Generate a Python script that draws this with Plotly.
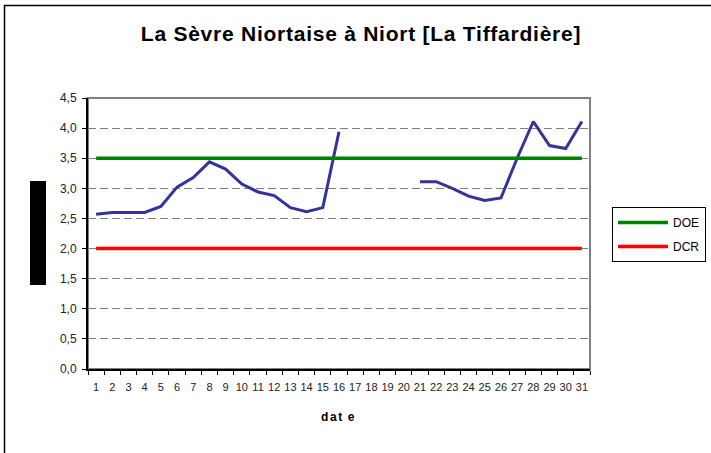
import plotly.graph_objects as go

days = [str(d) for d in range(1, 32)]
level = [2.57, 2.60, 2.60, 2.60, 2.70, 3.02, 3.18, 3.44, 3.32, 3.07,
         2.94, 2.88, 2.68, 2.61, 2.68, 3.94, None, None, None, None,
         3.11, 3.11, 3.00, 2.87, 2.80, 2.84, 3.50, 4.11, 3.71, 3.66, 4.11]
doe = [3.5] * 31
dcr = [2.0] * 31

W, H = 711, 453
L, R, T, B = 88, 590, 98, 369
pw, ph = R - L, B - T

def px(x):
    return (x - L) / pw

def py(y):
    return (B - y) / ph

font = "Arial, Liberation Sans, sans-serif"

fig = go.Figure()
fig.add_trace(go.Scatter(x=days, y=level, mode="lines", name="Niveau",
                         line=dict(color="#333399", width=3), showlegend=False,
                         connectgaps=False))
fig.add_trace(go.Scatter(x=days, y=doe, mode="lines", name="DOE",
                         line=dict(color="#008000", width=3.5), legendgroup="a"))
fig.add_trace(go.Scatter(x=days, y=dcr, mode="lines", name="DCR",
                         line=dict(color="#FF0000", width=3.5), legendgroup="b"))

fig.update_layout(
    width=W, height=H,
    margin=dict(l=L, r=W - R, t=T, b=H - B, autoexpand=False),
    paper_bgcolor="white", plot_bgcolor="white",
    font=dict(family=font, size=11, color="black"),
    separators=", ",
    title=dict(text="<b><span style='letter-spacing:0.75px'>La Sèvre Niortaise à Niort [La Tiffardière]</span></b>",
               x=361 / W, xanchor="center", y=1 - 34 / H, yanchor="middle",
               font=dict(family=font, size=21, color="black")),
    legend=dict(x=px(612), y=py(207), xanchor="left", yanchor="top",
                bordercolor="black", borderwidth=1, bgcolor="white",
                font=dict(family=font, size=12, color="black"),
                tracegroupgap=5, itemwidth=50),
    xaxis=dict(type="category", range=[-0.5, 30.5], showgrid=False,
               ticks="outside", tickson="boundaries", ticklen=4,
               tickcolor="black", showline=True, linecolor="black",
               linewidth=2, tickangle=0, ticklabelstandoff=7,
               tickfont=dict(size=11, color="#222")),
    yaxis=dict(range=[0, 4.5], dtick=0.5, tickformat=".1f",
               showgrid=True, gridcolor="#808080", griddash="8px,4px",
               gridwidth=1.3, ticks="outside", ticklen=4, tickcolor="black",
               showline=True, linecolor="black", linewidth=2,
               ticklabelstandoff=3,
               zeroline=False, tickfont=dict(size=12, color="#222")),
)

fig.add_shape(type="rect", xref="paper", yref="paper", x0=0, x1=1, y0=0, y1=1,
              line=dict(color="#808080", width=2), layer="below")
fig.add_shape(type="rect", xref="paper", yref="paper",
              x0=px(30), x1=px(46), y0=py(285), y1=py(181),
              fillcolor="black", line=dict(width=0))
fig.add_shape(type="rect", xref="paper", yref="paper",
              x0=px(4.5), x1=px(760), y0=py(500), y1=py(5.5),
              line=dict(color="black", width=1.5))
fig.add_annotation(text="<b><span style='letter-spacing:1.6px'>dat\u2009e</span></b>",
                   xref="paper", yref="paper",
                   x=px(338), y=py(417), xanchor="center", yanchor="middle",
                   showarrow=False,
                   font=dict(family=font, size=12, color="black"))

fig.write_html("out.html", config={"displayModeBar": False},
               post_script="document.body.style.margin='0';")
